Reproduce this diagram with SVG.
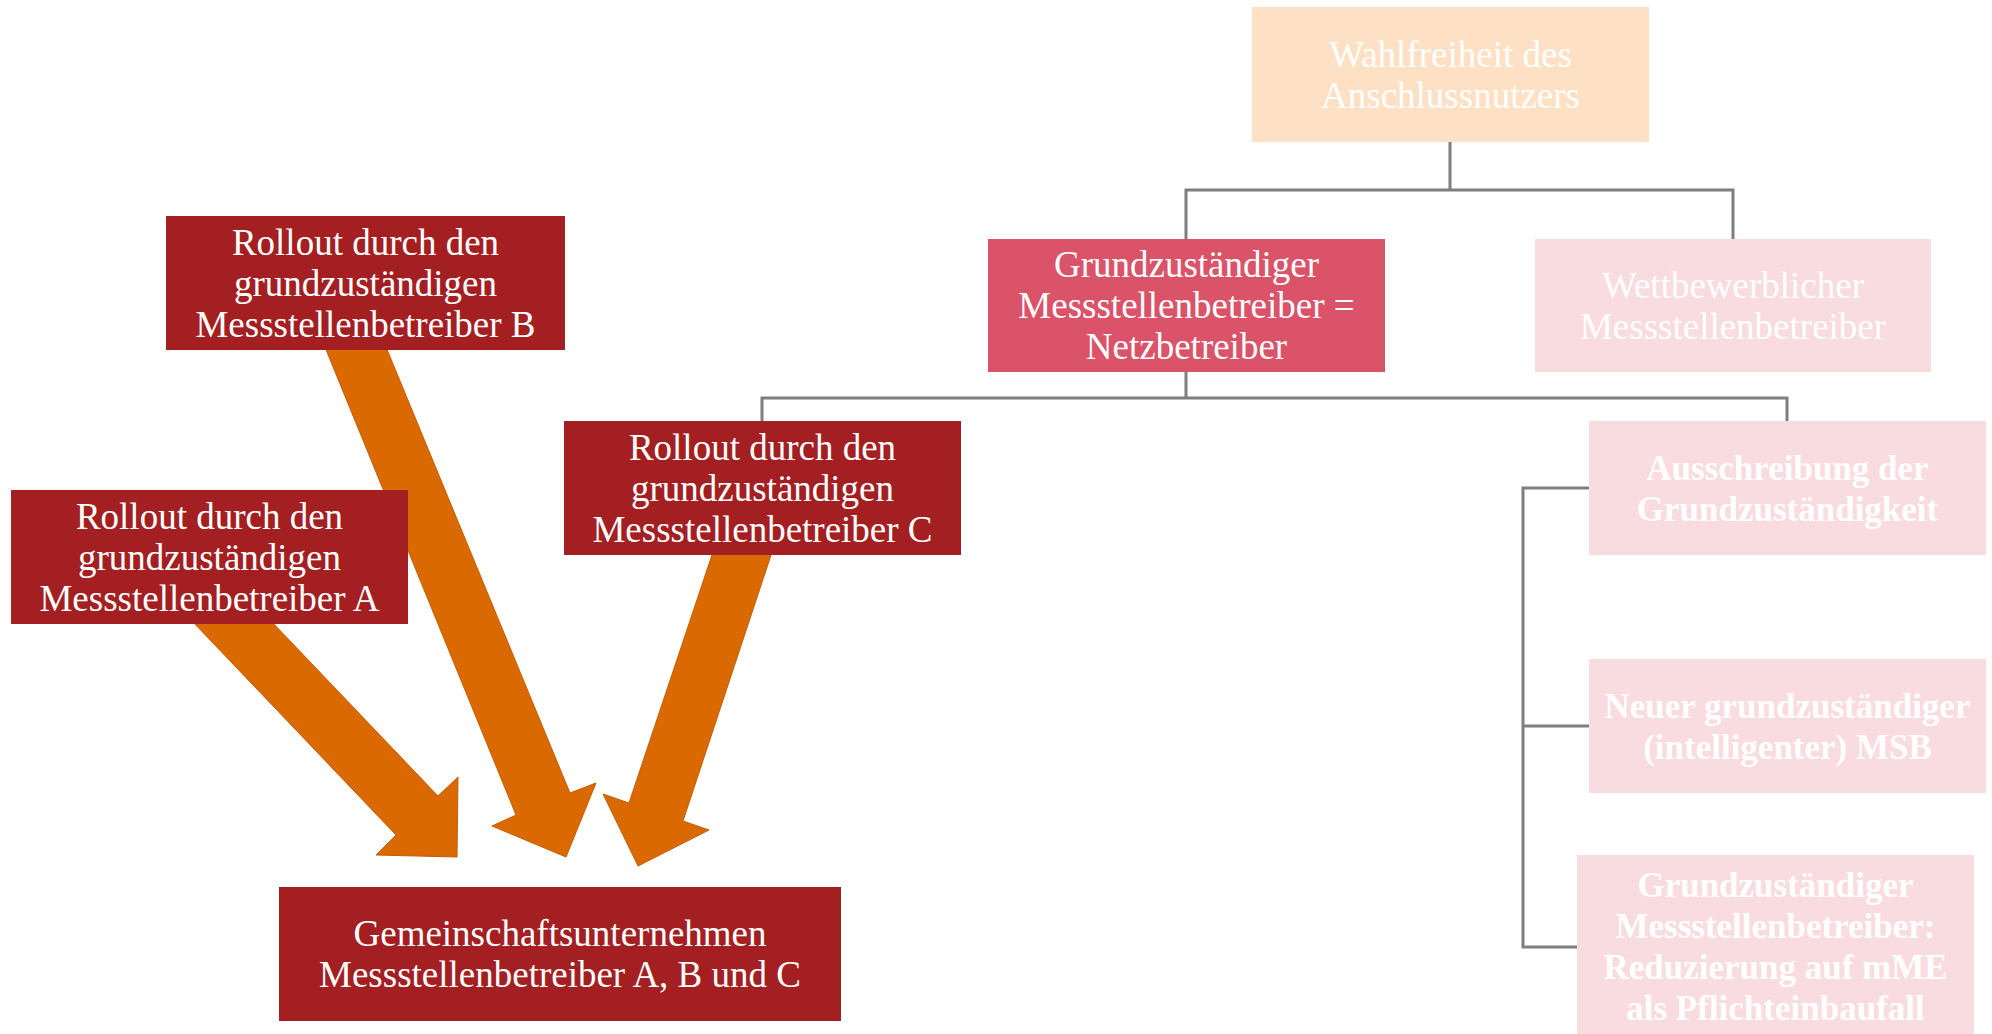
<svg xmlns="http://www.w3.org/2000/svg" width="1992" height="1034" viewBox="0 0 1992 1034">
<style>
.t{font-family:"Liberation Serif","Times New Roman",serif;font-size:37px;fill:#fff;text-anchor:middle}
.b{font-family:"Liberation Serif","Times New Roman",serif;font-size:35px;font-weight:bold;fill:#fff;text-anchor:middle}
.red{fill:#a31f22}
.pink{fill:#da5369}
.light{fill:#f8dce0}
.peach{fill:#fee1c5}
.arrow{fill:#d96900;stroke:#c45d00;stroke-width:1}
.conn{fill:none;stroke:#7f7f7f;stroke-width:3}
</style>
<rect width="1992" height="1034" fill="#fff"/>
<g id="connectors">
<path class="conn" d="M1450,142 V190 M1186,190 H1733 M1186,188.5 V239 M1733,188.5 V239"/>
<path class="conn" d="M1186,372 V398 M762,398 H1787 M762,396.5 V421 M1787,396.5 V421"/>
<path class="conn" d="M1589,488 H1523 V947 H1577 M1523,726 H1589"/>
<polygon class="arrow" points="172,600 396,835 376,855 457,857 458,777 438,796 251,600"/>
<polygon class="arrow" points="318,330 516,815 492,826 566,857 596,783 570,793 379,330"/>
<polygon class="arrow" points="717,540 629,803 603,794 638,866 709,830 683,821 776,540"/>
</g>
<g id="wahlfreiheit">
<rect class="peach" x="1252" y="7" width="397" height="135"/>
<text class="t" x="1450.5" y="66.5">Wahlfreiheit des</text>
<text class="t" x="1450.5" y="107.5">Anschlussnutzers</text>
</g>
<g id="grund-msb">
<rect class="pink" x="988" y="239" width="397" height="133"/>
<text class="t" x="1186.5" y="277">Grundzuständiger</text>
<text class="t" x="1186.5" y="318">Messstellenbetreiber =</text>
<text class="t" x="1186.5" y="359">Netzbetreiber</text>
</g>
<g id="wettbewerb">
<rect class="light" x="1535" y="239" width="396" height="133"/>
<text class="t" x="1733" y="297.5">Wettbewerblicher</text>
<text class="t" x="1733" y="338.5">Messstellenbetreiber</text>
</g>
<g id="rollout-b">
<rect class="red" x="166" y="216" width="399" height="134"/>
<text class="t" x="365.5" y="254.5">Rollout durch den</text>
<text class="t" x="365.5" y="295.5">grundzuständigen</text>
<text class="t" x="365.5" y="336.5">Messstellenbetreiber B</text>
</g>
<g id="rollout-a">
<rect class="red" x="11" y="490" width="397" height="134"/>
<text class="t" x="209.5" y="528.5">Rollout durch den</text>
<text class="t" x="209.5" y="569.5">grundzuständigen</text>
<text class="t" x="209.5" y="610.5">Messstellenbetreiber A</text>
</g>
<g id="rollout-c">
<rect class="red" x="564" y="421" width="397" height="134"/>
<text class="t" x="762.5" y="459.5">Rollout durch den</text>
<text class="t" x="762.5" y="500.5">grundzuständigen</text>
<text class="t" x="762.5" y="541.5">Messstellenbetreiber C</text>
</g>
<g id="gemeinschaft">
<rect class="red" x="279" y="887" width="562" height="134"/>
<text class="t" x="560" y="946">Gemeinschaftsunternehmen</text>
<text class="t" x="560" y="987">Messstellenbetreiber A, B und C</text>
</g>
<g id="ausschreibung">
<rect class="light" x="1589" y="421" width="397" height="134"/>
<text class="b" x="1787.5" y="480">Ausschreibung der</text>
<text class="b" x="1787.5" y="521">Grundzuständigkeit</text>
</g>
<g id="neuer-msb">
<rect class="light" x="1589" y="659" width="397" height="134"/>
<text class="b" x="1787.5" y="718">Neuer grundzuständiger</text>
<text class="b" x="1787.5" y="759">(intelligenter) MSB</text>
</g>
<g id="reduzierung">
<rect class="light" x="1577" y="855" width="397" height="184"/>
<text class="b" x="1775.5" y="897">Grundzuständiger</text>
<text class="b" x="1775.5" y="938">Messstellenbetreiber:</text>
<text class="b" x="1775.5" y="979">Reduzierung auf mME</text>
<text class="b" x="1775.5" y="1020">als Pflichteinbaufall</text>
</g>
</svg>
